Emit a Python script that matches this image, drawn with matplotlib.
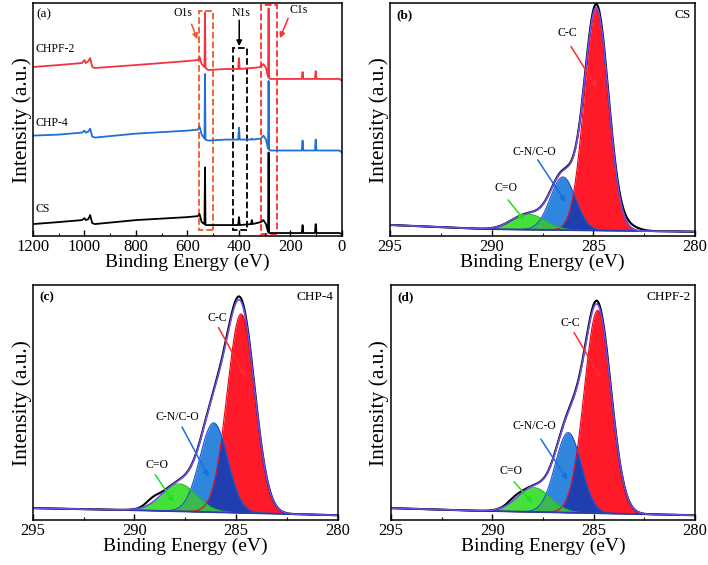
import numpy as np
import matplotlib.pyplot as plt
from matplotlib.patches import Rectangle

plt.rcParams['font.family'] = ['Liberation Serif', 'DejaVu Serif']
plt.rcParams['xtick.direction'] = 'in'
plt.rcParams['xtick.major.size'] = 4
plt.rcParams['xtick.minor.size'] = 2.5
plt.rcParams['xtick.major.width'] = 1.0
plt.rcParams['xtick.minor.width'] = 0.8
plt.rcParams['axes.linewidth'] = 1.1

# ---- survey spectra (a) ----
survey_be = [1200, 1100, 1010, 1000, 995, 985, 978, 970, 960, 800, 600, 560, 553, 545,
             534, 532, 530, 520, 450, 403, 400, 397, 353, 350, 347, 315, 305, 295,
             289, 287, 285, 283, 280, 200, 156, 153, 150, 105, 102, 99, 30, 10, 0]
survey_chpf2 = [168, 170, 172, 175, 172, 174, 177, 168, 167, 170, 174, 175, 178, 171,
                168, 223, 167, 165, 166, 166, 177, 166, 167, 167, 167, 168, 171, 167,
                160, 158, 227, 157, 156, 156, 156, 163, 156, 156, 164, 156, 156, 156, 154]
survey_chp4 = [99, 100, 102, 104, 102, 103, 106, 98, 97, 101, 104, 105, 108, 100,
               96, 161, 95, 94, 95, 95, 107, 95, 95, 96, 95, 96, 99, 95,
               88, 86, 154, 85, 84, 84, 84, 94, 84, 84, 95, 84, 84, 84, 82]
survey_cs = [10, 12, 14, 16, 14, 15, 19, 11, 10, 14, 17, 18, 20, 12,
             10, 67, 9, 9, 9, 9, 17, 9, 10, 14, 10, 12, 14, 10,
             4, 2, 82, 1, 1, 1, 1, 9, 1, 1, 10, 1, 1, 1, 0]

# ---- C1s fits: components C-C, C-N/C-O, C=O ----
cs_center = [284.85, 286.5, 288.2]
cs_height = [221, 53, 15.5]
cs_fwhm = [1.4, 1.45, 1.9]
cs_bg = [11, 6.7, 4.3]          # background at 295, 290, 280 eV
cs_raw_extra = [283.3, 4, 1.2]  # small deviation of raw data (center, height, fwhm)

chp4_center = [284.75, 286.1, 287.8]
chp4_height = [196, 88, 27]
chp4_fwhm = [1.6, 1.6, 2.0]
chp4_bg = [12, 10, 5]
chp4_raw_extra = [289.1, 5, 0.8]

chpf2_center = [284.8, 286.25, 287.95]
chpf2_height = [200, 79, 24]
chpf2_fwhm = [1.55, 1.5, 1.9]
chpf2_bg = [12, 9, 5]
chpf2_raw_extra = [288.9, 3, 0.8]

bg_be = [295, 290, 280]

fig = plt.figure(figsize=(7.08, 5.65), dpi=100)
ax_a = fig.add_axes([0.0466, 0.5823, 0.4364, 0.4117])
ax_b = fig.add_axes([0.551, 0.5823, 0.4306, 0.4117])
ax_c = fig.add_axes([0.0466, 0.0791, 0.4301, 0.4165])
ax_d = fig.add_axes([0.552, 0.0791, 0.4296, 0.4165])

TICK_FS = 12
XLAB_FS = 14
YLAB_FS = 15.5

# ---- panel (a) ----
ax = ax_a
ax.plot(survey_be, survey_cs, color='black', lw=1.3)
ax.plot(survey_be, survey_chp4, color='#1f6fd6', lw=1.3)
ax.plot(survey_be, survey_chpf2, color='#f5333f', lw=1.3)
ax.set_xlim(1200, 0)
ax.set_ylim(-2, 232)
ax.set_xticks([1200, 1000, 800, 600, 400, 200, 0])
ax.set_xticks(np.arange(100, 1200, 200), minor=True)
ax.set_yticks([])
ax.tick_params(axis='x', labelsize=TICK_FS, pad=2)
ax.set_xlabel('Binding Energy (eV)', fontsize=XLAB_FS, labelpad=-1)
ax.set_ylabel('Intensity (a.u.)', fontsize=YLAB_FS, labelpad=1)
ax.text(1192, 183, 'CHPF-2', fontsize=8.5)
ax.text(1192, 109, 'CHP-4', fontsize=8.5)
ax.text(1192, 22, 'CS', fontsize=8.5)
ax.text(1188, 218, '(a)', fontsize=9.5)
ax.add_patch(Rectangle((501, 4), 54, 220, fill=False, ls='--', lw=1.3, color='#ee5a2a'))
ax.add_patch(Rectangle((370, 4), 53, 183, fill=False, ls='--', lw=1.3, color='black'))
ax.add_patch(Rectangle((254, 0), 62, 230, fill=False, ls='--', lw=1.3, color='#ff2a2a',
                       clip_on=False))
ax.text(619, 219, 'O1s', fontsize=8.5, ha='center')
ax.text(393, 219, 'N1s', fontsize=8.5, ha='center')
ax.text(170, 222, 'C1s', fontsize=8.5, ha='center')
arrow = dict(arrowstyle='-|>', lw=1.1, mutation_scale=8, shrinkA=0, shrinkB=0)
ax.annotate('', xy=(562, 196), xytext=(584, 211), arrowprops=dict(arrow, color='#ee5a2a'))
ax.annotate('', xy=(399, 189), xytext=(399, 215), arrowprops=dict(arrow, color='black'))
ax.annotate('', xy=(241, 197), xytext=(209, 217), arrowprops=dict(arrow, color='#ff2a2a'))


def gauss(x, c, h, w):
    return h * np.exp(-4 * np.log(2) * ((x - c) / w) ** 2)


def c1s_panel(ax, center, height, fwhm, bg, raw_extra, label, sample, notes):
    x = np.linspace(280, 295, 800)
    base = np.interp(x, bg_be[::-1], bg[::-1])
    comps = [gauss(x, c, h, w) for c, h, w in zip(center, height, fwhm)]
    red, blue, green = [base + g for g in comps]
    env = base + sum(comps)
    raw = base + sum(comps) * 1.015 + gauss(x, *raw_extra)

    ax.fill_between(x, base, red, color='#ff1a2a', lw=0)
    ax.fill_between(x, base, blue, color='#2f86dc', lw=0)
    ax.fill_between(x, base, np.minimum(red, blue), color='#1f3fb0', lw=0)
    ax.fill_between(x, base, green, color='#45e03a', lw=0)
    ax.fill_between(x, base, np.minimum(green, blue), color='#3cb850', lw=0)
    ax.plot(x, red, color='#e8001a', lw=0.8)
    ax.plot(x, blue, color='#1a55d0', lw=0.8)
    ax.plot(x, green, color='#22bb22', lw=0.8)
    ax.plot(x, base, color='#2b3bb0', lw=1.3)
    ax.plot(x, raw, color='black', lw=1.5)
    ax.plot(x, env, color='#6f4fe8', lw=1.2)

    ax.set_xlim(295, 280)
    ax.set_ylim(0, 232)
    ax.set_xticks([295, 290, 285, 280])
    ax.set_xticks([292.5, 287.5, 282.5], minor=True)
    ax.set_yticks([])
    ax.tick_params(axis='x', labelsize=TICK_FS, pad=2)
    ax.set_xlabel('Binding Energy (eV)', fontsize=XLAB_FS, labelpad=-1)
    ax.set_ylabel('Intensity (a.u.)', fontsize=YLAB_FS, labelpad=1)
    ax.text(0.02, 0.975, label, transform=ax.transAxes, fontsize=9.5, va='top',
            fontweight='bold')
    ax.text(0.985, 0.975, sample, transform=ax.transAxes, fontsize=9.5, va='top',
            ha='right')
    for text, txy, start, end, col in notes:
        ax.text(txy[0], txy[1], text, fontsize=8.5, ha='center', va='bottom')
        ax.annotate('', xy=end, xytext=start, arrowprops=dict(arrow, color=col))


c1s_panel(ax_b, cs_center, cs_height, cs_fwhm, cs_bg, cs_raw_extra, '(b)', 'CS', [
    ('C-C', (286.3, 196), (286.1, 189), (284.84, 148), '#ff2a2a'),
    ('C-N/C-O', (287.9, 78), (287.74, 76), (286.37, 34), '#1a6fe0'),
    ('C=O', (289.3, 42), (289.2, 36), (288.4, 16), '#22dd22'),
])
c1s_panel(ax_c, chp4_center, chp4_height, chp4_fwhm, chp4_bg, chp4_raw_extra, '(c)', 'CHP-4', [
    ('C-C', (285.94, 194), (285.86, 190), (284.54, 142), '#ff2a2a'),
    ('C-N/C-O', (287.9, 96), (287.66, 92), (286.35, 43), '#1a6fe0'),
    ('C=O', (288.9, 49), (288.98, 45), (288.07, 18), '#22dd22'),
])
c1s_panel(ax_d, chpf2_center, chpf2_height, chpf2_fwhm, chpf2_bg, chpf2_raw_extra, '(d)', 'CHPF-2', [
    ('C-C', (286.15, 189), (285.96, 185), (284.64, 140), '#ff2a2a'),
    ('C-N/C-O', (287.93, 87), (287.6, 80), (286.29, 40), '#1a6fe0'),
    ('C=O', (289.08, 43), (288.92, 38), (288.01, 17), '#22dd22'),
])

fig.savefig('out.png', dpi=100)
